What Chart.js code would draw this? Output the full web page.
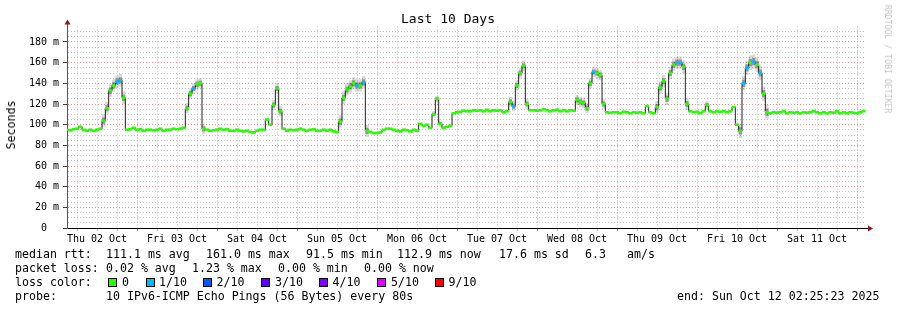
<!DOCTYPE html>
<html><head><meta charset="utf-8">
<script src="https://cdn.jsdelivr.net/npm/chart.js@4/dist/chart.umd.min.js"></script>
<style>
html,body{margin:0;padding:0;background:#fff;}
#wrap{position:relative;width:897px;height:310px;overflow:hidden;font-family:'DejaVu Sans Mono',monospace;color:#000;}
#c{position:absolute;left:0;top:0;}
.t{position:absolute;white-space:pre;font-size:11.6px;line-height:14px;}
.box{position:absolute;width:7px;height:7px;border:1px solid #000;top:277.5px;}
</style></head>
<body><div id="wrap"><canvas id="c" width="897" height="310"></canvas>
<div class="t" style="left:448px;top:11px;font-size:13px;line-height:16px;transform:translateX(-50%);">Last 10 Days</div>
<div class="t" style="left:11px;top:125px;transform:translate(-50%,-50%) rotate(-90deg);">Seconds</div>
<div class="t" style="left:887.5px;top:59px;font-size:8.2px;line-height:10px;color:#c4c4c4;transform:translate(-50%,-50%) rotate(90deg);">RRDTOOL / TOBI OETIKER</div>

<div class="t" style="left:15px;top:247.3px;">median rtt:</div>
<div class="t" style="left:106px;top:247.3px;">111.1 ms avg</div>
<div class="t" style="left:206px;top:247.3px;">161.0 ms max</div>
<div class="t" style="left:306px;top:247.3px;">91.5 ms min</div>
<div class="t" style="left:397px;top:247.3px;">112.9 ms now</div>
<div class="t" style="left:499px;top:247.3px;">17.6 ms sd</div>
<div class="t" style="left:585px;top:247.3px;">6.3</div>
<div class="t" style="left:627px;top:247.3px;">am/s</div>

<div class="t" style="left:15px;top:261.3px;">packet loss:</div>
<div class="t" style="left:106px;top:261.3px;">0.02 % avg</div>
<div class="t" style="left:192px;top:261.3px;">1.23 % max</div>
<div class="t" style="left:278px;top:261.3px;">0.00 % min</div>
<div class="t" style="left:364px;top:261.3px;">0.00 % now</div>

<div class="t" style="left:15px;top:275.3px;">loss color:</div>
<div class="box" style="left:108px;background:#26ff00;"></div><div class="t" style="left:122px;top:275.3px;">0</div>
<div class="box" style="left:146px;background:#00b8ff;"></div><div class="t" style="left:159px;top:275.3px;">1/10</div>
<div class="box" style="left:203px;background:#0059ff;"></div><div class="t" style="left:216.5px;top:275.3px;">2/10</div>
<div class="box" style="left:261px;background:#5e00ff;"></div><div class="t" style="left:275px;top:275.3px;">3/10</div>
<div class="box" style="left:319px;background:#7e00ff;"></div><div class="t" style="left:332.5px;top:275.3px;">4/10</div>
<div class="box" style="left:377px;background:#dd00ff;"></div><div class="t" style="left:391px;top:275.3px;">5/10</div>
<div class="box" style="left:435px;background:#ff0000;"></div><div class="t" style="left:448.5px;top:275.3px;">9/10</div>

<div class="t" style="left:15px;top:289px;">probe:</div>
<div class="t" style="left:106px;top:289px;">10 IPv6-ICMP Echo Pings (56 Bytes) every 80s</div>
<div class="t" style="left:677px;top:289px;">end: Sun Oct 12 02:25:23 2025</div>
</div>
<script>
// ---- data (hours counted from Thu 02 Oct 00:00) ----
const dayLabels = ['Thu 02 Oct','Fri 03 Oct','Sat 04 Oct','Sun 05 Oct','Mon 06 Oct','Tue 07 Oct','Wed 08 Oct','Thu 09 Oct','Fri 10 Oct','Sat 11 Oct'];
const startHour = 3;           // first sample: Thu 02 Oct 03:00, one sample per hour
const xMin = 3, xMax = 242.7;  // 10 days ending Sun 12 Oct 02:25
const yTickLabels = ['0  ','20 m','40 m','60 m','80 m','100 m','120 m','140 m','160 m','180 m'];
// median rtt in ms, hourly
const medianRtt = [
  95,94.5,95.5,96,98,95,94,95,94,95,96,
  104,116,133,138,141.6,143,126,
  95,95.5,97,95,95.5,94,95,95,94.5,95,96,94,95,95,96,95.5,96,97,
  116,130,135,139,140,
  96,
  95,94,94.5,95,96,95,95.5,94,94,95,94,93.5,94,93,92.5,94,95,95,
  105,100,119,135,113,96,94,
  95,94.5,95,96,95,94,95,95.5,94,94,95,94,95,93.5,93,
  103,126,134,137,140,138,138,141,
  94,93,92,92,92.5,95,96,96,95,94,93.5,95,94.5,93.5,95,94,
  101,99,100,97,110,125,101,97,98,99,111,112,112.5,113.5,113,
  113,114,113.5,114,113,114.5,113,114,113.5,114,112,113,
  122,118,138,150,157,120,114,
  114,113.5,114,115,114,113,114,114.5,113,114,113,114,113.5,
  124,122,121,116,140,151,150,148,120,112,
  111.5,112,112,111,112.5,112,111,112,111.5,112,111,
  118,112,111,117,136,142,125,150,158,160,160,156,120,113,
  112,112.5,111,113,119,113,112,113,112.5,113,112,113,
  117,100,94,140,155,160,161,158,150,130,112,
  111,112,111.5,112,113,111,112,111.5,112,111,112,111.5,112,113,112,111,112,111,112,111.5,113,111,112,111,112,111.5,111,112,112.9
];
// hours where 1/10 of pings were lost
const lossHours = [18,19,41,90,92,137,161,186,187,206,207,209,211];
// smoke spread (ms) around the median: [fromHour, toHour, spread]
const smokeBands = [[14,20,6],[39,44,5],[65,67,5],[85,93,6],[113,115,3],[136,141,5],[156,164,5],[180,189,6],[195,195,4],[205,213,7]];
const baseSpread = 1.2;

// ---- build ----
const hours = medianRtt.map((v,i)=>startHour+i);
function spreadAt(h){ for(const b of smokeBands){ if(h>=b[0]&&h<=b[1]) return b[2]; } return baseSpread; }
const medPts = medianRtt.map((v,i)=>({x:hours[i],y:v}));
const innerHi = medianRtt.map((v,i)=>({x:hours[i],y:v+spreadAt(hours[i])*0.5}));
const innerLo = medianRtt.map((v,i)=>({x:hours[i],y:v-spreadAt(hours[i])*0.5}));
const outerHi = medianRtt.map((v,i)=>({x:hours[i],y:v+spreadAt(hours[i])}));
const outerLo = medianRtt.map((v,i)=>({x:hours[i],y:v-spreadAt(hours[i])}));
const ptColors = hours.map(h=>lossHours.includes(h)?'#00b8ff':'#26ff00');

const xTicks=[]; for(let h=6;h<=xMax;h+=6) xTicks.push(h);
const yTicks=[]; for(let v=0;v<=190;v+=5) yTicks.push(v);
const RED='rgba(230,110,110,0.75)', GRAY='rgba(150,150,150,0.55)';
const FONT='DejaVu Sans Mono';

const arrowPlugin={id:'arrows',afterDraw(chart){
  const {ctx,chartArea:{left,right,top,bottom}}=chart;
  ctx.save();
  ctx.strokeStyle='#555'; ctx.lineWidth=1;
  ctx.beginPath(); ctx.moveTo(left+0.5,top); ctx.lineTo(left+0.5,top-3); ctx.stroke();
  ctx.strokeStyle='#000';
  ctx.beginPath(); ctx.moveTo(right,bottom+0.5); ctx.lineTo(right+3,bottom+0.5); ctx.stroke();
  ctx.fillStyle='#8b1a1a';
  ctx.beginPath(); ctx.moveTo(left+0.5,top-7); ctx.lineTo(left-2.5,top-2); ctx.lineTo(left+3.5,top-2); ctx.closePath(); ctx.fill();
  ctx.beginPath(); ctx.moveTo(right+7,bottom+0.5); ctx.lineTo(right+2,bottom-2.5); ctx.lineTo(right+2,bottom+3.5); ctx.closePath(); ctx.fill();
  ctx.restore();
}};

new Chart(document.getElementById('c'),{
  type:'line',
  data:{datasets:[
    {data:medPts,showLine:false,pointStyle:'line',pointRadius:2,pointHoverRadius:2,pointBorderWidth:2.5,pointBorderColor:ptColors,pointBackgroundColor:ptColors},
    {data:medPts,stepped:'middle',borderColor:'#202020',borderWidth:1,pointRadius:0,fill:false},
    {data:innerHi,stepped:'middle',borderWidth:0,pointRadius:0,fill:'+1',backgroundColor:'rgba(0,0,0,0.3)'},
    {data:innerLo,stepped:'middle',borderWidth:0,pointRadius:0,fill:false},
    {data:outerHi,stepped:'middle',borderWidth:0,pointRadius:0,fill:'+1',backgroundColor:'rgba(0,0,0,0.15)'},
    {data:outerLo,stepped:'middle',borderWidth:0,pointRadius:0,fill:false}
  ]},
  options:{
    responsive:false,animation:false,devicePixelRatio:1,events:[],
    layout:{padding:{top:26.5,right:31,left:0,bottom:0}},
    plugins:{legend:{display:false},tooltip:{enabled:false},title:{display:false}},
    scales:{
      x:{type:'linear',min:xMin,max:xMax,
        afterBuildTicks:(s)=>{s.ticks=xTicks.map(v=>({value:v}));},
        afterFit:(s)=>{s.height=82;},
        ticks:{autoSkip:false,maxRotation:0,minRotation:0,padding:2,color:'#000',font:{family:FONT,size:10},
          callback:(v)=> (v%24===12)?dayLabels[(v-12)/24]:''},
        grid:{color:(c)=>(c.tick&&c.tick.value%24===0)?RED:GRAY,lineWidth:1,tickLength:3,
          tickColor:(c)=>(c.tick&&c.tick.value%24===0)?'rgba(220,80,80,0.8)':'rgba(150,150,150,0.6)'},
        border:{display:true,color:'#000',width:1,dash:[1,2]}
      },
      y:{type:'linear',min:0,max:195,
        afterBuildTicks:(s)=>{s.ticks=yTicks.map(v=>({value:v}));},
        afterFit:(s)=>{s.width=67;},
        ticks:{autoSkip:false,padding:4,color:'#000',font:{family:FONT,size:10},
          callback:(v)=> (v%20===0)?yTickLabels[v/20]:''},
        grid:{color:(c)=>(c.tick&&c.tick.value%20===0)?RED:GRAY,lineWidth:1,tickLength:4,
          tickColor:(c)=>(c.tick&&c.tick.value%20===0)?'#444':'rgba(0,0,0,0)'},
        border:{display:true,color:'#555',width:1,dash:[1,2]}
      }
    }
  },
  plugins:[arrowPlugin]
});
</script>
</body></html>
